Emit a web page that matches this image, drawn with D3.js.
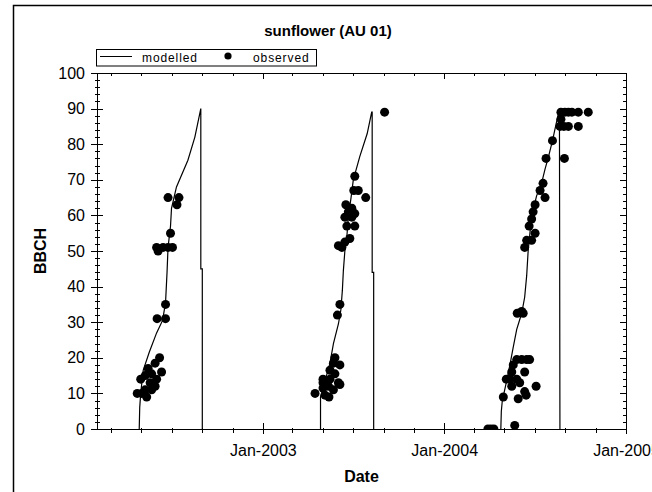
<!DOCTYPE html>
<html>
<head>
<meta charset="utf-8">
<script src="https://cdnjs.cloudflare.com/ajax/libs/d3/7.8.5/d3.min.js"></script>
<style>
  body { margin: 0; background: #fff; }
  svg { display: block; font-family: "Liberation Sans", Arial, sans-serif; }
  .axis path, .axis line { stroke: #000; shape-rendering: crispEdges; }
  .axis text { font-size: 16px; fill: #000; }
</style>
</head>
<body>
<svg id="chart" width="652" height="492"></svg>
<script>
// modelled BBCH, one array per season: [date, BBCH]
const model2002 = [
  ["2002-04-27", 0], ["2002-04-28", 6], ["2002-04-30", 10], ["2002-05-05", 16.5],
  ["2002-05-17", 21.5], ["2002-06-01", 27], ["2002-06-13", 30.5], ["2002-06-19", 35.5],
  ["2002-06-22", 44], ["2002-06-24", 51], ["2002-06-29", 57], ["2002-07-01", 62],
  ["2002-07-11", 68], ["2002-08-03", 75.5], ["2002-08-17", 82], ["2002-08-29", 90],
  ["2002-08-29", 45], ["2002-09-01", 45], ["2002-09-01", 0]
];
const model2003 = [
  ["2003-04-27", 0], ["2003-04-27", 9], ["2003-05-16", 18.5], ["2003-05-23", 24],
  ["2003-06-02", 29.5], ["2003-06-07", 33.5], ["2003-06-10", 39], ["2003-06-12", 44.5],
  ["2003-06-15", 50], ["2003-06-19", 54], ["2003-06-22", 59.5], ["2003-06-27", 64.5],
  ["2003-07-02", 70], ["2003-07-15", 76.5], ["2003-07-30", 83], ["2003-08-08", 89],
  ["2003-08-09", 89], ["2003-08-09", 44], ["2003-08-12", 44], ["2003-08-12", 0]
];
const model2004 = [
  ["2004-04-24", 0], ["2004-04-25", 5], ["2004-04-27", 8], ["2004-05-05", 13],
  ["2004-05-13", 18.5], ["2004-05-19", 23], ["2004-05-26", 28], ["2004-06-05", 32.5],
  ["2004-06-11", 37], ["2004-06-15", 43], ["2004-06-18", 50], ["2004-06-23", 57],
  ["2004-06-28", 61.5], ["2004-07-05", 65.5], ["2004-07-15", 69], ["2004-07-22", 73],
  ["2004-07-29", 76.5], ["2004-08-06", 81], ["2004-08-20", 90], ["2004-08-21", 0]
];

// observed BBCH
const obs2002 = [
  ["2002-06-24", 65], ["2002-07-16", 65], ["2002-07-12", 63], ["2002-06-29", 55],
  ["2002-06-01", 51], ["2002-06-04", 50], ["2002-06-14", 51], ["2002-06-24", 51],
  ["2002-07-03", 51], ["2002-06-19", 35], ["2002-06-02", 31], ["2002-06-19", 31],
  ["2002-06-07", 20], ["2002-05-29", 18.5], ["2002-05-15", 17], ["2002-06-11", 16],
  ["2002-05-22", 15.5], ["2002-05-09", 15], ["2002-06-01", 14], ["2002-04-30", 14],
  ["2002-05-19", 13], ["2002-05-29", 12], ["2002-05-09", 11], ["2002-05-22", 11],
  ["2002-04-23", 10], ["2002-05-02", 10], ["2002-05-12", 9]
];
const obs2003 = [
  ["2003-09-03", 89], ["2003-07-05", 71], ["2003-07-03", 67], ["2003-07-12", 67],
  ["2003-07-27", 65], ["2003-06-17", 63], ["2003-06-29", 62], ["2003-06-22", 61],
  ["2003-07-05", 60.5], ["2003-06-15", 59.5], ["2003-06-29", 59.5], ["2003-06-19", 57],
  ["2003-07-05", 57], ["2003-06-25", 53.5], ["2003-06-15", 52.5], ["2003-06-02", 51.5],
  ["2003-06-09", 51], ["2003-06-05", 35], ["2003-05-31", 32], ["2003-05-26", 20],
  ["2003-05-23", 18.5], ["2003-06-05", 18], ["2003-05-16", 16.5], ["2003-05-26", 15.5],
  ["2003-05-02", 14], ["2003-05-16", 14], ["2003-06-02", 13], ["2003-05-02", 13],
  ["2003-05-13", 12], ["2003-06-05", 12.5], ["2003-05-02", 11.5], ["2003-05-23", 11],
  ["2003-04-16", 10], ["2003-05-06", 9.5], ["2003-05-14", 9]
];
const obs2004 = [
  ["2004-08-23", 89], ["2004-08-31", 89], ["2004-09-07", 89], ["2004-09-14", 89],
  ["2004-09-27", 89], ["2004-10-17", 89], ["2004-08-21", 85], ["2004-08-29", 85],
  ["2004-09-07", 85], ["2004-09-27", 85], ["2004-08-23", 87], ["2004-08-06", 81],
  ["2004-07-24", 76], ["2004-08-30", 76], ["2004-07-18", 69], ["2004-07-12", 67],
  ["2004-07-22", 65], ["2004-07-02", 63], ["2004-06-28", 61], ["2004-06-25", 59],
  ["2004-06-20", 57], ["2004-07-02", 55], ["2004-06-15", 53], ["2004-06-25", 53],
  ["2004-06-11", 51], ["2004-05-27", 32.5], ["2004-06-08", 32.5], ["2004-06-05", 33],
  ["2004-05-26", 19.5], ["2004-06-05", 19.5], ["2004-06-15", 19.5], ["2004-06-21", 19.5],
  ["2004-05-19", 18], ["2004-06-11", 16], ["2004-05-16", 16], ["2004-05-12", 14],
  ["2004-05-26", 14], ["2004-05-05", 14], ["2004-06-01", 13], ["2004-07-04", 12],
  ["2004-05-16", 12], ["2004-06-11", 10.5], ["2004-04-29", 9], ["2004-05-29", 8.5],
  ["2004-06-14", 9.5], ["2004-03-29", 0], ["2004-04-04", 0], ["2004-04-10", 0],
  ["2004-05-22", 1]
];

const dateRange = ["2002-02-01", "2005-01-01"];
const bbchRange = [0, 100];
const title = "sunflower (AU 01)";

const parse = d3.timeParse("%Y-%m-%d");
const svg = d3.select("#chart");

const plotL = 97, plotR = 626, plotT = 73, plotB = 429;

const x = d3.scaleTime().domain(dateRange.map(parse)).range([plotL, plotR]);
const y = d3.scaleLinear().domain(bbchRange).range([plotB, plotT]);

// outer frame (runs off the window on the right and bottom)
svg.append("rect")
  .attr("x", 13.5).attr("y", 5.5)
  .attr("width", 700).attr("height", 600)
  .attr("fill", "#fff")
  .attr("stroke", "#000").attr("stroke-width", 1.5);

svg.append("text")
  .attr("x", 328).attr("y", 36)
  .attr("text-anchor", "middle")
  .attr("font-size", 15).attr("font-weight", "bold")
  .text(title);

svg.append("defs").append("clipPath").attr("id", "plot")
  .append("rect")
  .attr("x", plotL).attr("y", plotT)
  .attr("width", plotR - plotL).attr("height", plotB - plotT);

// ticks
let minorX = x.ticks(d3.timeMonth.every(2));
let majorX = x.ticks(d3.timeYear.every(1));
let minorY = d3.range(0, 101, 2);
let majorY = d3.range(0, 101, 10);

// bottom axis
let gb = svg.append("g").attr("class", "axis").attr("transform", `translate(0,${plotB})`);
gb.call(d3.axisBottom(x).tickValues(minorX).tickSize(4).tickSizeOuter(0).tickFormat(""));
gb.selectAll(".tick line").attr("y1", -1);
let gbm = svg.append("g").attr("class", "axis").attr("transform", `translate(0,${plotB})`);
gbm.call(d3.axisBottom(x).tickValues(majorX).tickSize(5).tickSizeOuter(0)
  .tickPadding(11).tickFormat(d3.timeFormat("%b-%Y")));
gbm.selectAll(".tick line").attr("y1", -6);
gbm.select(".domain").remove();

// top axis, ticks point inward
let gt = svg.append("g").attr("class", "axis").attr("transform", `translate(0,${plotT})`);
gt.call(d3.axisBottom(x).tickValues(minorX).tickSize(3).tickSizeOuter(0).tickFormat(""));
gt.selectAll(".tick").filter(d => d.getMonth() === 0).select("line").attr("y2", 6);

// left axis
let gl = svg.append("g").attr("class", "axis").attr("transform", `translate(${plotL},0)`);
gl.call(d3.axisLeft(y).tickValues(minorY).tickSize(2.5).tickSizeOuter(0).tickFormat(""));
gl.selectAll(".tick line").attr("x1", 2.5);
let glm = svg.append("g").attr("class", "axis").attr("transform", `translate(${plotL},0)`);
glm.call(d3.axisLeft(y).tickValues(majorY).tickSize(6).tickSizeOuter(0).tickPadding(6));
glm.selectAll(".tick line").attr("x1", 6);
glm.select(".domain").remove();

// right axis, ticks point inward
let gr = svg.append("g").attr("class", "axis").attr("transform", `translate(${plotR},0)`);
gr.call(d3.axisLeft(y).tickValues(minorY).tickSize(3).tickSizeOuter(0).tickFormat(""));
gr.selectAll(".tick").filter(d => d % 10 === 0).select("line").attr("x2", -6);

// axis titles
svg.append("text")
  .attr("x", (plotL + plotR) / 2).attr("y", 482)
  .attr("text-anchor", "middle")
  .attr("font-size", 16).attr("font-weight", "bold")
  .text("Date");

svg.append("text")
  .attr("transform", `translate(46,${(plotT + plotB) / 2}) rotate(-90)`)
  .attr("text-anchor", "middle")
  .attr("font-size", 16).attr("font-weight", "bold")
  .text("BBCH");

// data
let plot = svg.append("g").attr("clip-path", "url(#plot)");

let line = d3.line()
  .x(d => x(parse(d[0])))
  .y(d => y(d[1]));

[model2002, model2003, model2004].forEach(function(s) {
  plot.append("path")
    .datum(s)
    .attr("d", line)
    .attr("fill", "none")
    .attr("stroke", "#000")
    .attr("stroke-width", 1.2);
});

plot.selectAll("circle")
  .data(obs2002.concat(obs2003, obs2004))
  .enter()
  .append("circle")
  .attr("cx", d => x(parse(d[0])))
  .attr("cy", d => y(d[1]))
  .attr("r", 4.5)
  .attr("fill", "#000");

// legend
let lg = svg.append("g");
lg.append("rect")
  .attr("x", 96.5).attr("y", 49.5)
  .attr("width", 220).attr("height", 16.5)
  .attr("fill", "#fff").attr("stroke", "#000");
lg.append("line")
  .attr("x1", 100).attr("x2", 132)
  .attr("y1", 56.5).attr("y2", 56.5)
  .attr("stroke", "#000");
lg.append("text")
  .attr("x", 142).attr("y", 62)
  .attr("font-size", 12).attr("letter-spacing", 0.9)
  .text("modelled");
lg.append("circle")
  .attr("cx", 228).attr("cy", 56)
  .attr("r", 3.6).attr("fill", "#000");
lg.append("text")
  .attr("x", 253).attr("y", 62)
  .attr("font-size", 12).attr("letter-spacing", 0.9)
  .text("observed");
</script>
</body>
</html>
